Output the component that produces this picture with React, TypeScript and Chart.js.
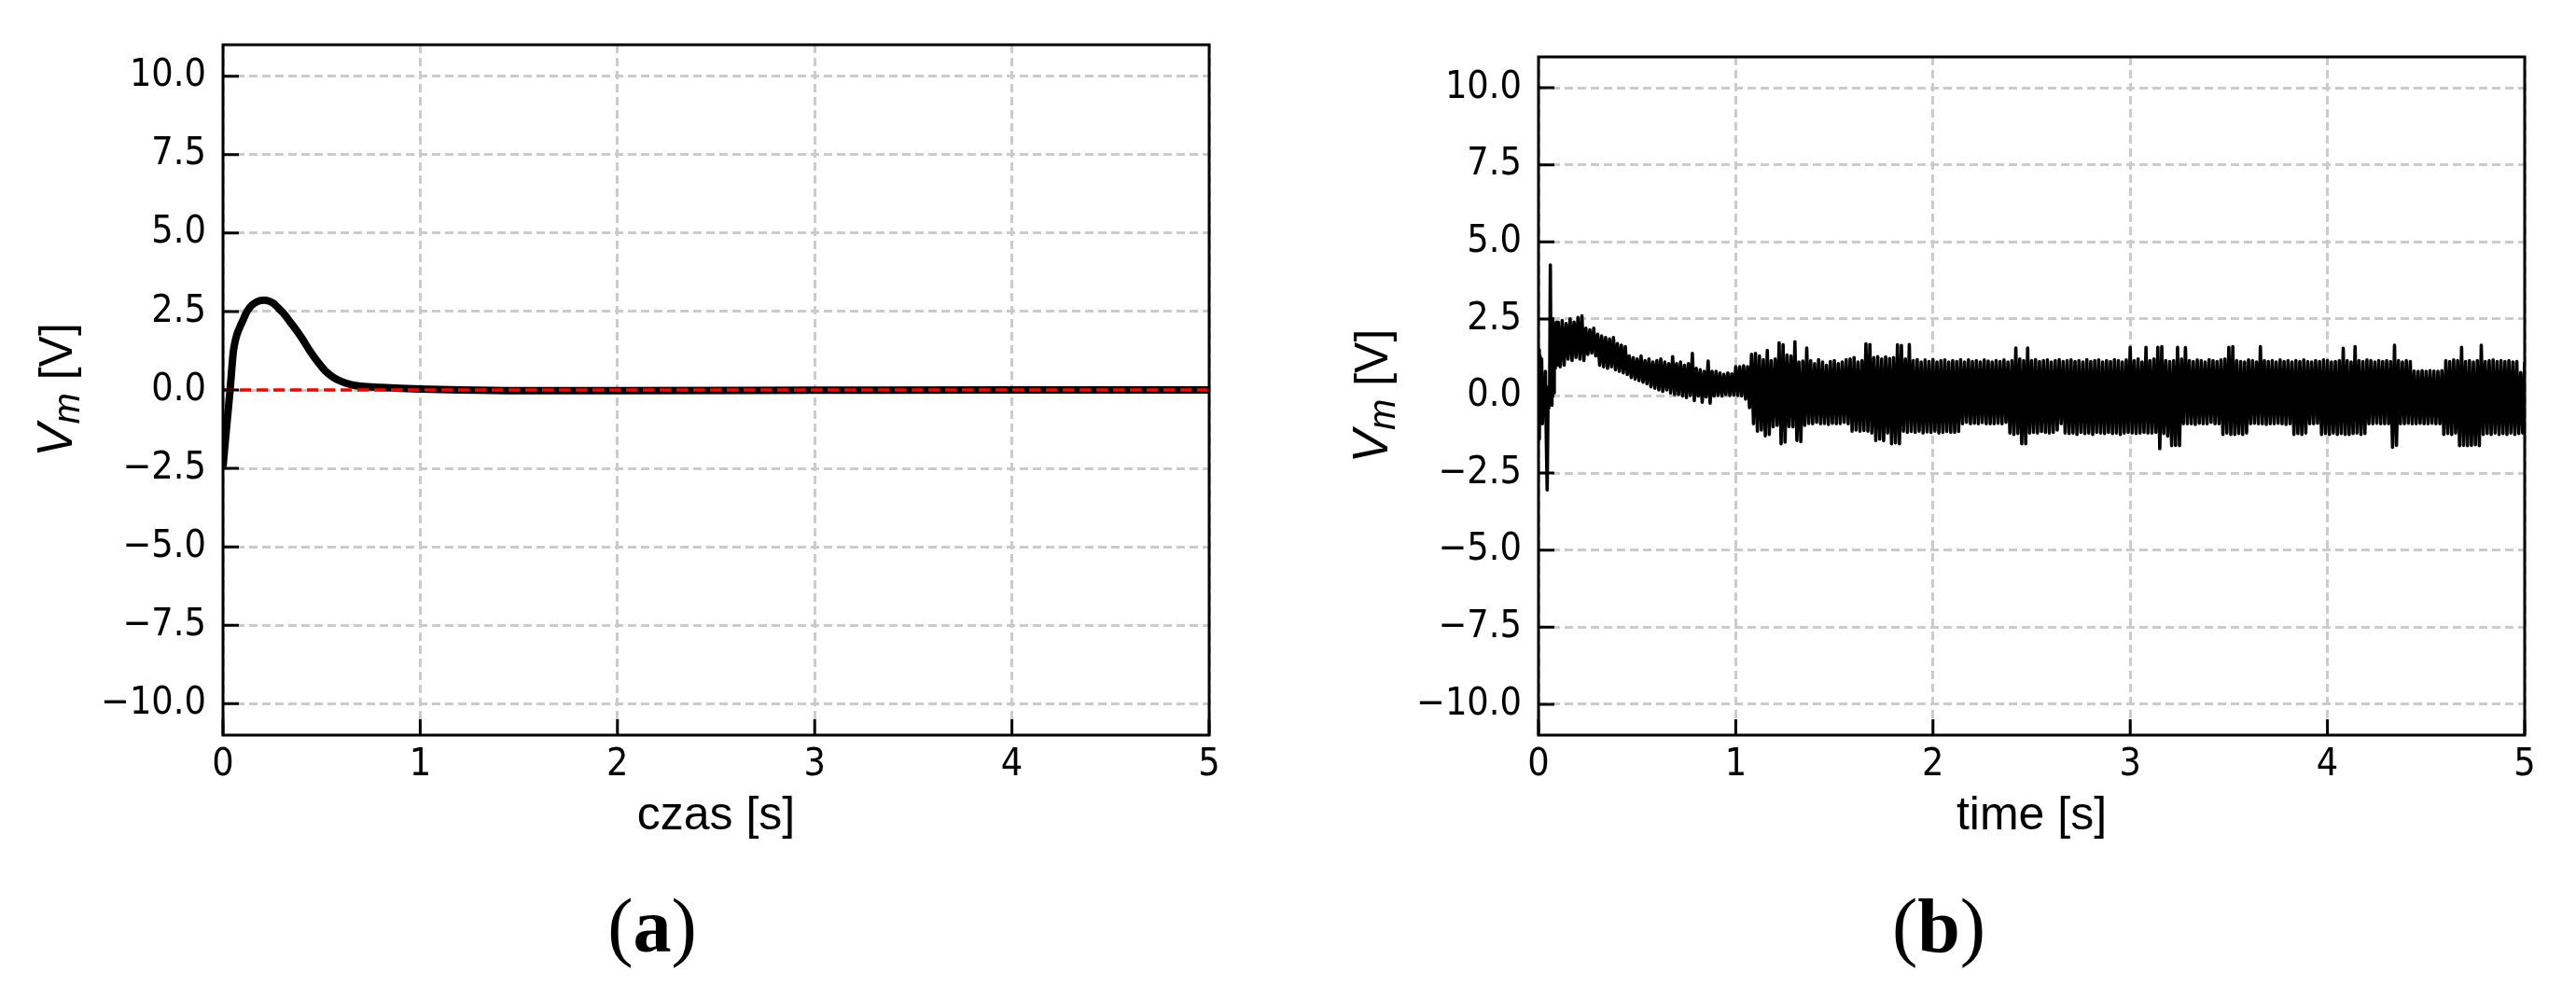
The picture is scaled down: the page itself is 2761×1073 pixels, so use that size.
import React, { useEffect, useRef } from "react";
import { Chart, registerables } from "chart.js";

Chart.register(...registerables);

// ---------- shared axis data ----------
const xTickValues = [0, 1, 2, 3, 4, 5];
const yTickValues = [-10, -7.5, -5, -2.5, 0, 2.5, 5, 7.5, 10];
const xRange = [0, 5];
const yRange = [-11, 11];

// ---------- (a) simulated V_m ----------
const timeA = [0, 0.012, 0.024, 0.036, 0.045, 0.052, 0.06, 0.07, 0.08, 0.09, 0.1, 0.115, 0.13, 0.15, 0.17, 0.19, 0.21, 0.23, 0.25, 0.27, 0.29, 0.31, 0.34, 0.37, 0.4, 0.44, 0.48, 0.52, 0.56, 0.6, 0.65, 0.7, 0.8, 0.9, 1.0, 1.2, 1.5, 2.0, 3.0, 4.0, 5.0];
const vmA = [-2.45, -1.6, -0.8, 0.0, 0.7, 1.2, 1.5, 1.75, 1.92, 2.07, 2.2, 2.42, 2.58, 2.72, 2.8, 2.85, 2.86, 2.84, 2.78, 2.68, 2.55, 2.42, 2.17, 1.92, 1.65, 1.25, 0.9, 0.6, 0.4, 0.27, 0.17, 0.12, 0.08, 0.05, 0.03, 0.0, -0.02, -0.02, -0.01, 0.0, 0.0];
const refTimeA = [0, 5];
const refValueA = [0, 0];

// ---------- (b) measured V_m ----------
const earlyTimeB = [0, 0.004, 0.008, 0.012, 0.016, 0.02, 0.025, 0.03, 0.035, 0.04, 0.044, 0.048, 0.052, 0.056, 0.06, 0.064, 0.068, 0.072, 0.076, 0.08, 0.085, 0.09, 0.095];
const earlyValueB = [1.5, -1.4, 1.3, -0.6, 1.2, -0.9, 0.4, -0.3, 0.8, -1.6, -3.05, -0.4, 0.3, -0.2, 4.25, 0.2, -0.3, 2.5, 0.1, 2.3, 0.9, 2.4, 1.0];
// per-0.02 s bins starting at t = 0.10: upper and lower excursions of the signal
const binStartB = 0.1;
const binStepB = 0.02;
const highB = [
  2.4, 2.45, 2.35, 2.5, 2.4, 2.55, 2.6, 2.2, 2.15, 2.2,
  2.0, 1.95, 1.9, 1.85, 1.9, 1.7, 1.65, 1.6, 1.3, 1.25,
  1.2, 1.3, 1.15, 1.2, 1.1, 1.15, 1.2, 1.1, 1.05, 1.28,
  1.05, 1.1, 1.0, 1.05, 1.38, 0.9, 0.85, 0.8, 1.13, 0.8,
  0.8, 0.75, 0.7, 0.75, 0.72, 0.95, 0.95, 0.98, 0.95, 1.35,
  1.38, 1.3, 1.18, 1.48, 1.15, 1.2, 1.72, 1.66, 1.33, 1.3,
  1.76, 1.1, 1.13, 1.56, 1.15, 1.05, 1.18, 1.1, 1.0, 1.12,
  1.15, 1.05, 1.1, 1.18, 1.2, 1.25, 1.1, 1.15, 1.69, 1.67,
  1.25, 1.28, 1.2, 1.27, 1.22, 1.25, 1.66, 1.64, 1.2, 1.67,
  1.15, 1.18, 1.1, 1.17, 1.12, 1.18, 1.1, 1.15, 1.17, 1.1,
  1.15, 1.12, 1.18, 1.1, 1.17, 1.12, 1.15, 1.1, 1.17, 1.13,
  1.1, 1.15, 1.12, 1.17, 1.1, 1.15, 1.56, 1.2, 1.15, 1.56,
  1.15, 1.18, 1.12, 1.15, 1.17, 1.1, 1.15, 1.18, 1.12, 1.15,
  1.17, 1.12, 1.15, 1.1, 1.18, 1.12, 1.15, 1.17, 1.1, 1.15,
  1.12, 1.18, 1.15, 1.1, 1.17, 1.58, 1.15, 1.2, 1.1, 1.58,
  1.15, 1.2, 1.58, 1.6, 1.15, 1.12, 1.15, 1.58, 1.2, 1.57,
  1.15, 1.12, 1.17, 1.15, 1.1, 1.18, 1.15, 1.12, 1.17, 1.2,
  1.58, 1.6, 1.15, 1.12, 1.1, 1.17, 1.15, 1.1, 1.6, 1.15,
  1.12, 1.15, 1.1, 1.17, 1.12, 1.15, 1.1, 1.15, 1.12, 1.17,
  1.12, 1.1, 1.15, 1.12, 1.17, 1.15, 1.1, 1.12, 1.15, 1.55,
  1.15, 1.1, 1.6, 1.15, 1.12, 1.17, 1.15, 1.1, 1.15, 1.12,
  1.15, 1.12, 1.65, 1.15, 1.1, 1.15, 1.12, 0.81, 0.8, 0.82,
  0.8, 0.82, 0.81, 0.8, 0.82, 1.15, 1.12, 1.17, 1.15, 1.58,
  1.12, 1.15, 1.1, 1.15, 1.65, 1.12, 1.15, 1.17, 1.12, 1.15,
  1.12, 1.15, 1.1, 1.12, 0.76,
];
const lowB = [
  0.95, 1.0, 1.2, 1.15, 1.25, 1.2, 1.15, 1.35, 1.4, 1.3,
  1.0, 0.95, 0.9, 0.95, 0.85, 0.8, 0.75, 0.7, 0.6, 0.55,
  0.5, 0.45, 0.4, 0.3, 0.25, 0.2, 0.15, 0.2, 0.1, 0.05,
  0.05, 0.0, -0.05, 0.02, -0.15, 0.0, -0.2, -0.03, -0.23, 0.0,
  0.02, 0.0, 0.05, 0.02, 0.03, 0.02, 0.0, -0.1, -0.38, -0.9,
  -1.14, -1.1, -1.29, -1.25, -1.0, -0.95, -1.55, -1.5, -0.99, -1.0,
  -1.44, -1.48, -0.95, -0.89, -0.9, -0.85, -0.9, -0.89, -0.92, -0.88,
  -0.9, -0.89, -0.85, -0.9, -1.14, -1.1, -1.14, -1.12, -1.14, -1.2,
  -1.44, -1.4, -1.45, -1.2, -1.55, -1.52, -1.55, -1.14, -1.18, -1.15,
  -1.18, -1.14, -1.2, -1.16, -1.18, -1.14, -1.2, -1.18, -1.15, -1.18,
  -1.18, -1.15, -0.9, -0.85, -0.9, -0.88, -0.9, -0.86, -0.9, -0.9,
  -0.9, -0.88, -0.9, -0.85, -1.2, -1.25, -1.22, -1.55, -1.55, -1.2,
  -1.18, -1.2, -1.15, -1.18, -1.2, -1.18, -1.1, -0.9, -1.2, -1.22,
  -1.2, -1.25, -1.18, -1.22, -1.2, -1.25, -1.18, -1.2, -1.22, -1.18,
  -1.22, -1.2, -1.25, -1.2, -1.18, -1.2, -1.22, -1.2, -1.18, -1.2,
  -1.2, -1.18, -1.71, -1.22, -1.3, -1.61, -1.6, -1.61, -0.9, -0.9,
  -0.9, -0.92, -0.88, -0.9, -0.9, -0.85, -0.9, -0.9, -1.25, -1.2,
  -1.25, -1.25, -1.22, -1.25, -1.2, -0.9, -0.88, -0.9, -0.9, -0.92,
  -0.9, -0.9, -0.88, -0.9, -0.92, -0.9, -1.25, -1.22, -1.25, -1.2,
  -0.9, -0.9, -0.88, -1.25, -1.22, -1.25, -1.2, -1.25, -1.22, -1.25,
  -1.25, -1.22, -1.2, -1.25, -1.22, -0.9, -0.9, -0.88, -0.9, -0.9,
  -0.9, -1.66, -1.6, -0.9, -0.9, -0.88, -0.9, -0.9, -0.88, -0.9,
  -0.9, -0.88, -0.9, -0.9, -1.25, -1.22, -1.25, -1.2, -1.61, -1.6,
  -1.61, -1.6, -1.58, -1.61, -1.25, -1.22, -1.25, -1.2, -1.25, -1.22,
  -1.25, -1.2, -1.25, -1.22, -1.2,
];
const endTimeB = [5.0];
const endValueB = [1.1];

// ---------- styling ----------
const TICK_FONT = "'Liberation Sans Narrow', 'Arial Narrow', 'DejaVu Sans Condensed', 'Liberation Sans', sans-serif";
const LABEL_FONT = "'Liberation Sans', Arial, sans-serif";
const W = 2761;
const H = 1073;

type PanelSpec = {
  canvasLeft: number;
  canvasWidth: number;
  areaLeft: number;
  areaRight: number;
  areaTop: number;
  areaBottom: number;
  yTitleBaselineX: number;
  xTitle: string;
  datasets: any[];
};

function buildA() {
  return [
    {
      data: refTimeA.map((t, i) => ({ x: t, y: refValueA[i] })),
      borderColor: "#ff0000",
      borderWidth: 3.6,
      borderDash: [12, 6],
      pointRadius: 0,
      fill: false,
    },
    {
      data: timeA.map((t, i) => ({ x: t, y: vmA[i] })),
      borderColor: "#000000",
      borderWidth: 8,
      pointRadius: 0,
      cubicInterpolationMode: "monotone",
      fill: false,
    },
  ];
}

function buildB() {
  const pts: { x: number; y: number }[] = [];
  earlyTimeB.forEach((t, i) => pts.push({ x: t, y: earlyValueB[i] }));
  highB.forEach((h, i) => {
    const t0 = binStartB + i * binStepB;
    pts.push({ x: t0, y: h });
    pts.push({ x: t0 + binStepB / 2, y: lowB[i] });
  });
  endTimeB.forEach((t, i) => pts.push({ x: t, y: endValueB[i] }));
  return [
    {
      data: pts,
      borderColor: "#000000",
      borderWidth: 3.6,
      borderJoinStyle: "round",
      pointRadius: 0,
      fill: false,
    },
  ];
}

const decoPlugin = (spec: PanelSpec) => ({
  id: "decoFrame",
  afterDatasetsDraw(chart: any) {
    const ctx = chart.ctx as CanvasRenderingContext2D;
    const a = chart.chartArea;
    const xs = chart.scales.x;
    const ys = chart.scales.y;
    ctx.save();
    ctx.strokeStyle = "#000";
    ctx.lineWidth = 3;
    ctx.lineCap = "butt";
    ctx.beginPath();
    xTickValues.forEach((v) => {
      const px = xs.getPixelForValue(v);
      ctx.moveTo(px, a.bottom);
      ctx.lineTo(px, a.bottom - 17);
    });
    yTickValues.forEach((v) => {
      const py = ys.getPixelForValue(v);
      ctx.moveTo(a.left, py);
      ctx.lineTo(a.left + 17, py);
    });
    ctx.stroke();
    ctx.strokeRect(a.left, a.top, a.right - a.left, a.bottom - a.top);
    ctx.restore();
  },
  afterDraw(chart: any) {
    const ctx = chart.ctx as CanvasRenderingContext2D;
    const a = chart.chartArea;
    const cy = (a.top + a.bottom) / 2;
    ctx.save();
    ctx.fillStyle = "#000";
    ctx.textBaseline = "alphabetic";
    ctx.textAlign = "left";
    const fV = `italic 53px ${LABEL_FONT}`;
    const fm = `italic 40px ${LABEL_FONT}`;
    const fr = `50px ${LABEL_FONT}`;
    ctx.font = fV;
    const wV = ctx.measureText("V").width;
    ctx.font = fm;
    const wm = ctx.measureText("m").width;
    ctx.font = fr;
    const wr = ctx.measureText(" [V]").width;
    const total = wV + wm + wr;
    ctx.translate(spec.yTitleBaselineX, cy);
    ctx.rotate(-Math.PI / 2);
    let u = -total / 2;
    ctx.font = fV;
    ctx.fillText("V", u, 0);
    u += wV;
    ctx.font = fm;
    ctx.fillText("m", u, 8);
    u += wm;
    ctx.font = fr;
    ctx.fillText(" [V]", u, 0);
    ctx.restore();
  },
});

function Panel({ spec }: { spec: PanelSpec }) {
  const ref = useRef<HTMLCanvasElement | null>(null);
  useEffect(() => {
    if (!ref.current) return;
    const chart = new Chart(ref.current, {
      type: "line",
      data: { datasets: spec.datasets },
      plugins: [decoPlugin(spec)],
      options: {
        animation: false,
        responsive: false,
        devicePixelRatio: 1,
        events: [],
        layout: {
          padding: {
            left: 0,
            top: spec.areaTop,
            right: spec.canvasWidth - spec.areaRight,
            bottom: 0,
          },
        },
        plugins: {
          legend: { display: false },
          tooltip: { enabled: false },
        },
        scales: {
          x: {
            type: "linear",
            min: xRange[0],
            max: xRange[1],
            afterBuildTicks: (s: any) => {
              s.ticks = xTickValues.map((v) => ({ value: v }));
            },
            afterFit: (s: any) => {
              s.height = H - spec.areaBottom;
              s.paddingLeft = 0;
              s.paddingRight = 0;
            },
            grid: {
              color: "#cbcbcb",
              lineWidth: 3,
              drawTicks: false,
            },
            border: { display: false, dash: [9, 5] },
            ticks: {
              color: "#000",
              padding: 8,
              maxRotation: 0,
              autoSkip: false,
              font: { family: TICK_FONT, size: 41 },
              callback: (v: any) => String(v),
            },
            title: {
              display: true,
              text: spec.xTitle,
              color: "#000",
              font: { family: LABEL_FONT, size: 50 },
              padding: { top: 0, bottom: 168 },
            },
          },
          y: {
            type: "linear",
            min: yRange[0],
            max: yRange[1],
            afterBuildTicks: (s: any) => {
              s.ticks = yTickValues.map((v) => ({ value: v }));
            },
            afterFit: (s: any) => {
              s.width = spec.areaLeft;
              s.paddingTop = 0;
              s.paddingBottom = 0;
            },
            grid: {
              color: "#cbcbcb",
              lineWidth: 3,
              drawTicks: false,
            },
            border: { display: false, dash: [9, 5] },
            ticks: {
              color: "#000",
              padding: 18,
              autoSkip: false,
              font: { family: TICK_FONT, size: 41 },
              callback: (v: any) => (v < 0 ? "\u2212" : "") + Math.abs(Number(v)).toFixed(1),
            },
          },
        },
      } as any,
    });
    return () => chart.destroy();
  }, [spec]);
  return (
    <canvas
      ref={ref}
      width={spec.canvasWidth}
      height={H}
      style={{ position: "absolute", left: spec.canvasLeft, top: 0, width: spec.canvasWidth, height: H }}
    />
  );
}

const specA: PanelSpec = {
  canvasLeft: 0,
  canvasWidth: 1380,
  areaLeft: 239,
  areaRight: 1296,
  areaTop: 48,
  areaBottom: 788,
  yTitleBaselineX: 77,
  xTitle: "czas [s]",
  datasets: buildA(),
};

const specB: PanelSpec = {
  canvasLeft: 1380,
  canvasWidth: 1381,
  areaLeft: 269,
  areaRight: 1326,
  areaTop: 61,
  areaBottom: 788,
  yTitleBaselineX: 107,
  xTitle: "time [s]",
  datasets: buildB(),
};

function Caption({ cx, letter }: { cx: number; letter: string }) {
  return (
    <div
      style={{
        position: "absolute",
        left: cx - 100,
        top: 952,
        width: 200,
        textAlign: "center",
        fontFamily: "'Liberation Serif', 'DejaVu Serif', serif",
        fontSize: 82,
        lineHeight: "82px",
        fontWeight: 400,
        color: "#000",
      }}
    >
      (<span style={{ fontWeight: 700 }}>{letter}</span>)
    </div>
  );
}

export default function App() {
  return (
    <div style={{ position: "absolute", left: 0, top: 0, width: W, height: H, background: "#fff", overflow: "hidden" }}>
      <Panel spec={specA} />
      <Panel spec={specB} />
      <Caption cx={699} letter="a" />
      <Caption cx={2078} letter="b" />
    </div>
  );
}
